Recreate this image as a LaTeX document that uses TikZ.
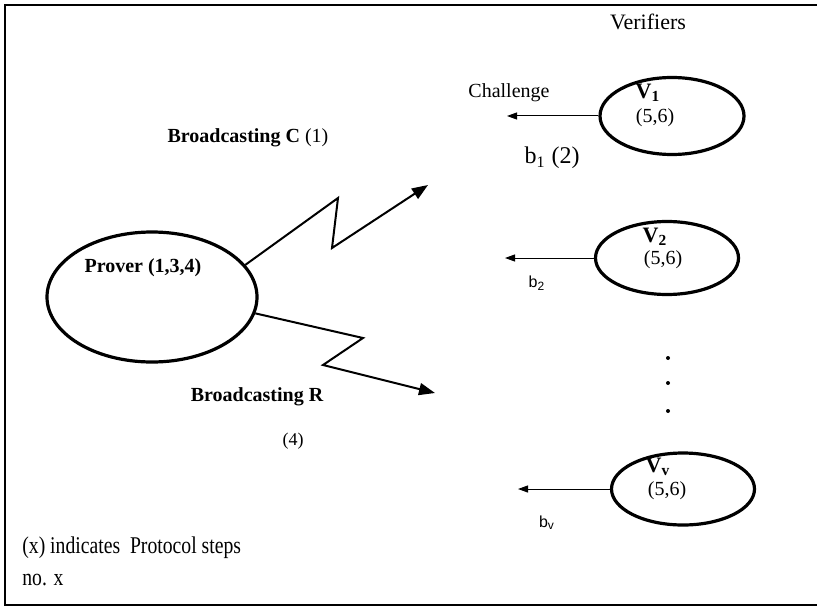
\documentclass[tikz,border=0pt]{standalone}
\usepackage{fontspec}
\setmainfont{Liberation Serif}
\newfontfamily\arialfont{Liberation Sans}
\newfontfamily\narrowfont[FakeStretch=0.82]{Liberation Serif}
\usetikzlibrary{arrows.meta, shapes.geometric, positioning}

\tikzset{
  party/.style={draw, ellipse, line width=1.6pt, inner sep=0pt},
  bolt/.style={line width=1pt, -{Triangle[length=8pt, width=6pt]}},
  reply/.style={line width=0.5pt, -{Triangle[length=5pt, width=3.5pt]}},
  lbl/.style={inner sep=0pt, font=\fontsize{10}{12}\selectfont},
  blbl/.style={lbl, font=\fontsize{10}{12}\selectfont\bfseries},
  slbl/.style={inner sep=0pt, font=\fontsize{8}{10}\selectfont\arialfont},
  legend/.style={inner sep=0pt, anchor=west, font=\fontsize{12}{14}\selectfont\narrowfont},
  frameline/.style={line width=1pt},
}

\begin{document}
\begin{tikzpicture}[x=0.5pt, y=-0.5pt]
    \useasboundingbox (0,0) rectangle (817,609);
    % Frame, open at the right
    \draw[frameline] (5,5) -- (817,5);
    \draw[frameline] (5,4.5) -- (5,605.5);
    \draw[frameline] (5,605) -- (817,605);

    % Prover
    \node[party, minimum width=105pt, minimum height=65pt] (prover) at (152,297) {};
    \node[blbl] (provername) at (143,268) {Prover (1,3,4)};

    % Broadcasting C
    \coordinate (ctip) at (428,185);
    \draw[bolt] (prover.19) -- (338,198) -- (332,248) -- (ctip);
    \node[lbl] (bcastc) at (248,138) {\textbf{Broadcasting C} (1)};

    % Broadcasting R
    \coordinate (rtip) at (435,393);
    \draw[bolt] (prover.-9) -- (363,338) -- (323,365) -- (rtip);
    \node[blbl] (bcastr) at (257,397) {Broadcasting R};
    \node[lbl, font=\fontsize{9}{11}\selectfont] (stepfour) at (293,441) {(4)};

    % Verifiers
    \node[lbl, font=\fontsize{11}{13}\selectfont] (vtitle) at (648,22) {Verifiers};

    \node[party, minimum width=72pt, minimum height=38.5pt] (v1) at (672,116) {};
    \node[lbl, font=\fontsize{11}{13}\selectfont\bfseries] (v1name) at (648,93) {V\textsubscript{1}};
    \node[lbl] (v1steps) at (655,118) {(5,6)};
    \coordinate (b1end) at (507,116);
    \draw[reply] (v1.west) -- (b1end);
    \node[lbl] (challenge) at (509,93) {Challenge};
    \node[lbl, font=\fontsize{12}{14}\selectfont] (b1) at (552,158) {b\textsubscript{1} (2)};

    \node[party, minimum width=71.5pt, minimum height=36.5pt] (v2) at (667,258) {};
    \node[lbl, font=\fontsize{11}{13}\selectfont\bfseries] (v2name) at (655,237) {V\textsubscript{2}};
    \node[lbl] (v2steps) at (663,260) {(5,6)};
    \coordinate (b2end) at (505,258);
    \draw[reply] (v2.west) -- (b2end);
    \node[slbl] (b2) at (537,283) {b\textsubscript{2}};

    % more verifiers
    \foreach \y in {358,383,411}
        \fill (668,\y) circle[radius=1pt];

    \node[party, minimum width=71.5pt, minimum height=36pt] (vv) at (683,489) {};
    \node[lbl, font=\fontsize{11}{13}\selectfont\bfseries] (vvname) at (658,467) {V\textsubscript{v}};
    \node[lbl] (vvsteps) at (667,491) {(5,6)};
    \coordinate (bvend) at (518,489);
    \draw[reply] (vv.west) -- (bvend);
    \node[slbl] (bv) at (547,523) {b\textsubscript{v}};

    % Legend
    \node[legend] (legend1) at (22,548) {(x) indicates\ \ Protocol steps};
    \node[legend] (legend2) at (22,580) {no. x};
\end{tikzpicture}
\end{document}
